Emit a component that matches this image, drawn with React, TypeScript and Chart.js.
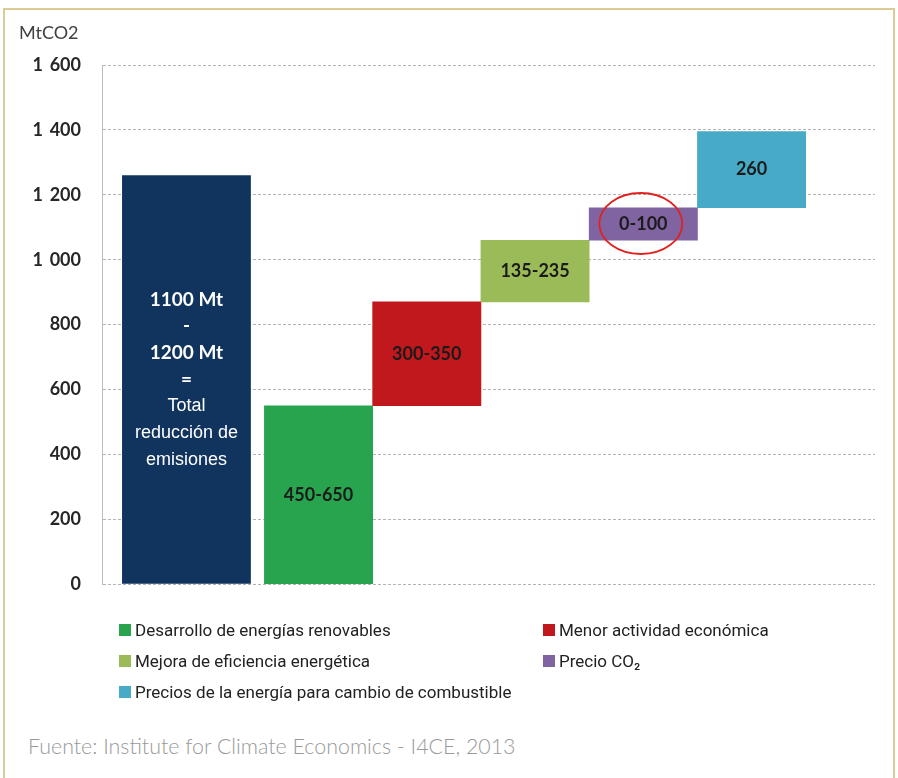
import React, { useEffect, useRef } from 'react';
import { Chart, registerables } from 'chart.js';

Chart.register(...registerables);

// ---- data ----
const yAxisTitle = 'MtCO2';
const yMin = 0;
const yMax = 1600;
const yStep = 200;

const totalLabelLines = ['1100 Mt', '-', '1200 Mt', '=', 'Total', 'reducción de', 'emisiones'];
const totalValue = 1260;

const stepCategories = [
  'Desarrollo de energías renovables',
  'Menor actividad económica',
  'Mejora de eficiencia energética',
  'Precio CO₂',
  'Precios de la energía para cambio de combustible',
];
const stepStarts = [0, 550, 870, 1060, 1160];
const stepEnds = [550, 870, 1060, 1160, 1395];
const stepLabels = ['450-650', '300-350', '135-235', '0-100', '260'];
const highlightedStep = 3;

const stepColors = ['#28a44f', '#c1181d', '#9bbb59', '#8064a2', '#47abc8'];
const totalColor = '#11345e';

const sourceText = 'Fuente: Institute for Climate Economics - I4CE, 2013';

// ---- layout constants (not data) ----
const TOTAL_X = -0.22;
const X_MIN = -1;
const X_MAX = 6.14;

const fmtTick = (v: number) => String(v).replace(/\B(?=(\d{3})+(?!\d))/g, '\u2009 ');

const labelPlugin = {
  id: 'barLabels',
  afterDatasetsDraw(chart: any) {
    const ctx = chart.ctx;
    ctx.save();
    ctx.textAlign = 'center';
    ctx.textBaseline = 'middle';
    const m0 = chart.getDatasetMeta(0);
    m0.data.forEach((el: any) => {
      const p = el.getProps(['x', 'y', 'base'], true);
      const cy = (p.y + p.base) / 2;
      const lh = 26.7;
      const n = totalLabelLines.length;
      ctx.fillStyle = '#ffffff';
      totalLabelLines.forEach((line, i) => {
        ctx.font = i < 4 ? 'bold 19px Lato' : '18px "Liberation Sans"';
        ctx.fillText(line, p.x, cy + (i - (n - 1) / 2) * lh);
      });
    });
    const m1 = chart.getDatasetMeta(1);
    m1.data.forEach((el: any, i: number) => {
      const p = el.getProps(['x', 'y', 'base'], true);
      const cy = (p.y + p.base) / 2;
      ctx.fillStyle = '#1b1b1b';
      ctx.font = 'bold 18px Lato';
      ctx.fillText(stepLabels[i], p.x, cy);
      if (i === highlightedStep) {
        ctx.beginPath();
        ctx.strokeStyle = '#e1211d';
        ctx.lineWidth = 1.8;
        ctx.ellipse(p.x - 2.5, cy - 0.5, 41.5, 30.5, 0, 0, Math.PI * 2);
        ctx.stroke();
      }
    });
    ctx.restore();
  },
};

function WaterfallChart() {
  const ref = useRef<HTMLCanvasElement | null>(null);
  useEffect(() => {
    if (!ref.current) return;
    const chart = new Chart(ref.current, {
      type: 'bar',
      data: {
        datasets: [
          {
            label: 'Total',
            data: [{ x: TOTAL_X, y: [0, totalValue] }] as any,
            backgroundColor: totalColor,
            barPercentage: 1.19,
            categoryPercentage: 1,
            grouped: false,
          } as any,
          {
            label: 'Pasos',
            data: stepCategories.map((_, i) => ({ x: i + 1, y: [stepStarts[i], stepEnds[i]] })) as any,
            backgroundColor: stepColors,
            barPercentage: 1,
            categoryPercentage: 1,
            grouped: false,
          } as any,
        ],
      },
      options: {
        responsive: false,
        animation: false,
        layout: { padding: { left: 0, right: 23, top: 65, bottom: 0 } },
        plugins: { legend: { display: false }, tooltip: { enabled: false } },
        scales: {
          x: {
            type: 'linear',
            display: false,
            min: X_MIN,
            max: X_MAX,
            offset: false,
            grid: { offset: false },
            ticks: { stepSize: 1 },
            afterBuildTicks: (s: any) => {
              s.ticks = s.ticks.filter((t: any) => Number.isInteger(t.value));
            },
          } as any,
          y: {
            min: yMin,
            max: yMax,
            afterFit: (s: any) => {
              s.width = 102;
            },
            ticks: {
              stepSize: yStep,
              padding: 21,
              color: '#262626',
              font: { family: 'Lato', weight: 'bold', size: 18 },
              callback: (v: any) => fmtTick(Number(v)),
            },
            grid: { color: '#b3b3b3', lineWidth: 1, drawTicks: false },
            border: { display: true, color: '#bdbdbd', width: 1, dash: [3, 2] },
          } as any,
        },
      },
      plugins: [labelPlugin],
    });
    return () => chart.destroy();
  }, []);
  return <canvas ref={ref} width={898} height={616} style={{ position: 'absolute', left: 0, top: 0 }} />;
}

export default function App() {
  return (
    <div style={{ position: 'absolute', left: 0, top: 0, width: 898, height: 778, overflow: 'hidden', background: '#fff' }}>
      <div
        style={{
          position: 'absolute',
          left: 3,
          top: 8,
          width: 892,
          height: 820,
          border: '2px solid #dccb94',
          boxSizing: 'border-box',
        }}
      />
      <WaterfallChart />
      <div
        style={{
          position: 'absolute',
          left: 19,
          top: 21,
          fontFamily: 'Lato',
          fontSize: 18,
          color: '#404040',
          lineHeight: '22px',
        }}
      >
        {yAxisTitle}
      </div>
      <div
        style={{
          position: 'absolute',
          left: 119,
          top: 614,
          display: 'grid',
          gridTemplateColumns: '424px auto',
          gridAutoRows: '31px',
          fontFamily: 'Roboto',
          fontSize: 17,
          color: '#222',
        }}
      >
        {stepCategories.map((c, i) => (
          <div key={c} style={{ display: 'flex', alignItems: 'center', whiteSpace: 'nowrap' }}>
            <span style={{ display: 'inline-block', width: 12, height: 12, background: stepColors[i], marginRight: 4 }} />
            <span>{c}</span>
          </div>
        ))}
      </div>
      <div
        style={{
          position: 'absolute',
          left: 28,
          top: 732,
          fontFamily: 'Lato',
          fontWeight: 300,
          fontSize: 21.4,
          color: '#999999',
          whiteSpace: 'nowrap',
          lineHeight: '28px',
        }}
      >
        {sourceText}
      </div>
    </div>
  );
}
